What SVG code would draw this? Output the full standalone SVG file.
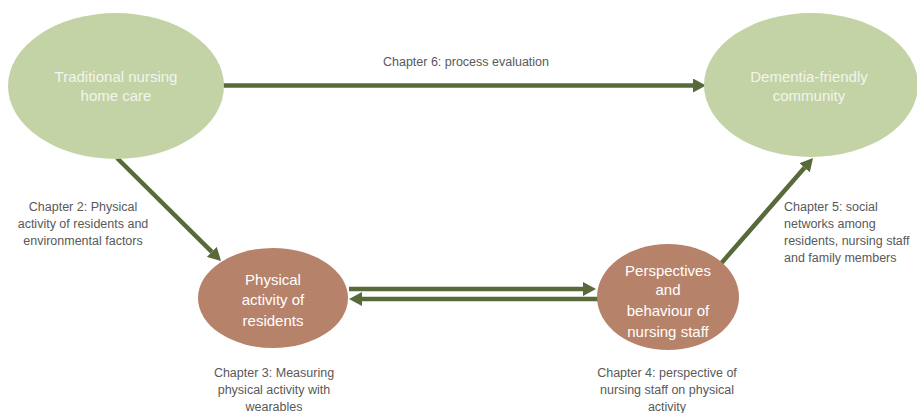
<svg xmlns="http://www.w3.org/2000/svg" width="917" height="413" viewBox="0 0 917 413">
<defs>
<style>
.green{fill:#c3d3a5;}
.brown{fill:#b7826a;}
.ntext{font-family:"Liberation Sans","Open Sans",sans-serif;font-size:15px;fill:#f4f4ee;text-anchor:middle;}
.ntextw{font-family:"Liberation Sans","Open Sans",sans-serif;font-size:15px;fill:#ffffff;text-anchor:middle;}
.label{font-family:"Liberation Sans","Open Sans",sans-serif;font-size:12.5px;fill:#595959;}
.conn{stroke:#596a3a;stroke-width:4.5;fill:none;}
</style>
<marker id="ah" viewBox="0 0 13 14" refX="0" refY="7" markerWidth="13" markerHeight="14" markerUnits="userSpaceOnUse" orient="auto">
<path d="M0,0 L13,7 L0,14 z" fill="#596a3a"/>
</marker>
</defs>
<rect width="917" height="413" fill="#ffffff"/>
<g id="connectors">
<line class="conn" x1="223" y1="85.5" x2="693" y2="85.5" marker-end="url(#ah)"/>
<line class="conn" x1="117" y1="158" x2="211.8" y2="251.9" marker-end="url(#ah)"/>
<line class="conn" x1="349" y1="289" x2="583" y2="289" marker-end="url(#ah)"/>
<line class="conn" x1="599" y1="299" x2="362" y2="299" marker-end="url(#ah)"/>
<line class="conn" x1="718" y1="267" x2="804.5" y2="167.8" marker-end="url(#ah)"/>
</g>
<g id="node-traditional">
<ellipse class="green" cx="116" cy="86" rx="108" ry="73"/>
<text class="ntext" x="116" y="82">Traditional nursing</text>
<text class="ntext" x="116" y="101">home care</text>
</g>
<g id="node-dementia">
<ellipse class="green" cx="811" cy="85" rx="107" ry="72"/>
<text class="ntext" x="809" y="82">Dementia-friendly</text>
<text class="ntext" x="809" y="101">community</text>
</g>
<g id="node-physical">
<ellipse class="brown" cx="273" cy="298" rx="75" ry="50"/>
<text class="ntextw" x="273" y="285">Physical</text>
<text class="ntextw" x="273" y="305">activity of</text>
<text class="ntextw" x="273" y="326">residents</text>
</g>
<g id="node-perspectives">
<ellipse class="brown" cx="668" cy="297" rx="71" ry="53"/>
<text class="ntextw" x="668" y="276">Perspectives</text>
<text class="ntextw" x="668" y="295">and</text>
<text class="ntextw" x="668" y="316">behaviour of</text>
<text class="ntextw" x="668" y="337">nursing staff</text>
</g>
<g id="labels">
<text class="label" x="466" y="66" text-anchor="middle">Chapter 6: process evaluation</text>
<text class="label" text-anchor="middle"><tspan x="83" y="211">Chapter 2: Physical</tspan><tspan x="83" y="228">activity of residents and</tspan><tspan x="83" y="245">environmental factors</tspan></text>
<text class="label" text-anchor="middle"><tspan x="274" y="377">Chapter 3: Measuring</tspan><tspan x="274" y="394">physical activity with</tspan><tspan x="274" y="411">wearables</tspan></text>
<text class="label" text-anchor="middle"><tspan x="667" y="377">Chapter 4: perspective of</tspan><tspan x="667" y="394">nursing staff on physical</tspan><tspan x="667" y="411">activity</tspan></text>
<text class="label"><tspan x="784" y="211">Chapter 5: social</tspan><tspan x="784" y="228">networks among</tspan><tspan x="784" y="245">residents, nursing staff</tspan><tspan x="784" y="262">and family members</tspan></text>
</g>
</svg>
